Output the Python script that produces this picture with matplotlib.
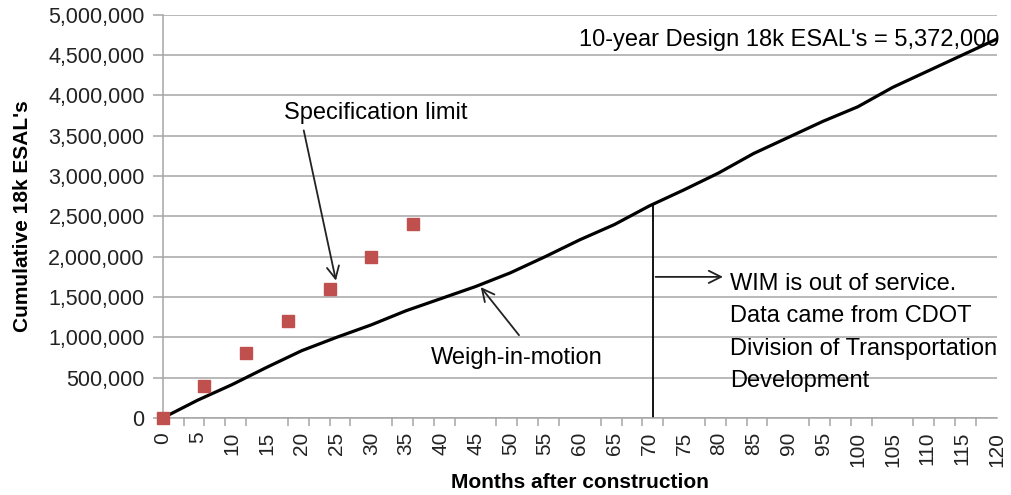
import numpy as np
import matplotlib.pyplot as plt
from matplotlib.ticker import FuncFormatter

plt.rcParams['font.family'] = ['Liberation Sans', 'DejaVu Sans']

# weigh-in-motion cumulative ESALs, read every 5 months
wim_months = [0, 5, 10, 15, 20, 25, 30, 35, 40, 45, 50, 55, 60,
              65, 70, 75, 80, 85, 90, 95, 100, 105, 110, 115, 120]
wim_esals = [0, 220000, 415000, 630000, 835000, 1000000, 1155000, 1330000,
             1480000, 1630000, 1800000, 2000000, 2210000, 2400000, 2630000,
             2830000, 3040000, 3280000, 3480000, 3680000, 3860000, 4100000,
             4300000, 4500000, 4700000]

# specification limit points
spec_months = [0, 6, 12, 18, 24, 30, 36]
spec_esals = [0, 400000, 800000, 1200000, 1600000, 2000000, 2400000]

wim_end_month = 70.5
xlabels = list(range(0, 121, 5))
xmarks = list(range(0, 121, 3))
yticks = list(range(0, 5000001, 500000))

fig = plt.figure(figsize=(10.11, 4.95), dpi=100)
ax = fig.add_axes([0.161, 0.1556, 0.825, 0.8144])

ax.set_xlim(0, 120)
ax.set_ylim(0, 5000000)
ax.set_yticks(yticks)
ax.set_xticks(xlabels)
ax.set_xticklabels([str(t) for t in xlabels], rotation=90)
ax.set_xticks(xmarks, minor=True)
ax.yaxis.set_major_formatter(FuncFormatter(lambda v, p: f'{int(v):,}'))

ax.grid(axis='y', color='#a6a6a6', lw=1.1)
ax.set_axisbelow(True)
for s in ['top', 'right']:
    ax.spines[s].set_visible(False)
for s in ['left', 'bottom']:
    ax.spines[s].set_color('#a6a6a6')
    ax.spines[s].set_linewidth(1.1)
ax.tick_params(axis='y', colors='#a6a6a6', labelcolor='#222222',
               labelsize=15.5, length=7, width=1.1, pad=6)
ax.tick_params(axis='x', which='major', length=0, labelcolor='#222222',
               labelsize=15, pad=10)
ax.tick_params(axis='x', which='minor', length=6, width=1.1, color='#a6a6a6')

ax.plot(wim_months, wim_esals, color='black', lw=2.3, zorder=3)
ax.plot(spec_months, spec_esals, 's', color='#c0504d', ms=8.5,
        clip_on=False, zorder=4)

ax.set_xlabel('Months after construction', fontsize=15, fontweight='bold',
              labelpad=4)
ax.set_ylabel("Cumulative 18k ESAL's", fontsize=15, fontweight='bold',
              labelpad=12)

arrow = dict(arrowstyle='->', color='#222222', lw=1.3, mutation_scale=22)
ax.text(30.7, 3780000, 'Specification limit', fontsize=17, ha='center',
        va='center')
ax.annotate('', xy=(25.0, 1670000), xytext=(20.2, 3600000), arrowprops=arrow)
ax.annotate('', xy=(45.5, 1650000), xytext=(51.5, 1000000), arrowprops=arrow)
ax.text(50.9, 744000, 'Weigh-in-motion', fontsize=17, ha='center', va='center')

# WIM out of service marker
wim_end_val = np.interp(wim_end_month, wim_months, wim_esals)
ax.plot([wim_end_month, wim_end_month], [0, wim_end_val], color='black', lw=1.3)
ax.annotate('', xy=(81.0, 1750000), xytext=(wim_end_month, 1750000),
            arrowprops=arrow)
ax.text(81.6, 1800000,
        'WIM is out of service.\nData came from CDOT\nDivision of Transportation\nDevelopment',
        fontsize=17, ha='left', va='top', linespacing=1.62)

ax.text(120.4, 4690000, "10-year Design 18k ESAL's = 5,372,000", fontsize=17,
        ha='right', va='center')

fig.savefig('out.png', dpi=100)
